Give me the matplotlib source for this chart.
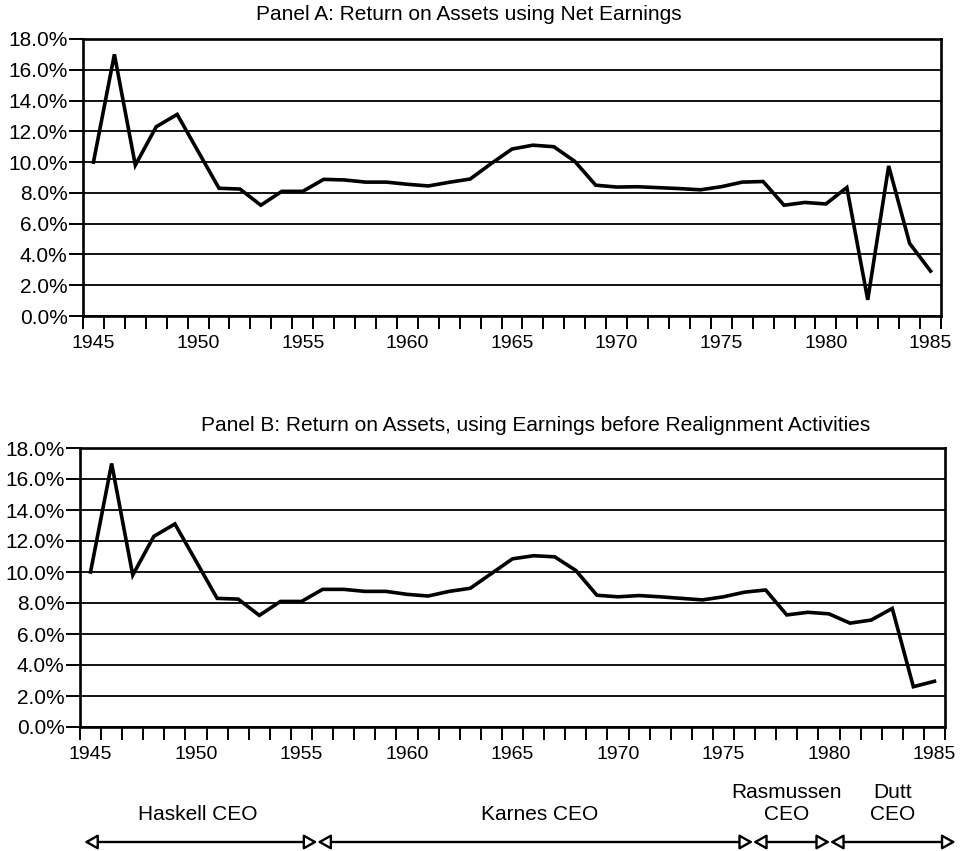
import numpy as np
import matplotlib
matplotlib.use('Agg')
import matplotlib.pyplot as plt
from matplotlib.patches import FancyArrowPatch
from matplotlib.transforms import blended_transform_factory

plt.rcParams['font.family'] = ['Liberation Sans', 'DejaVu Sans']

years = list(range(1945, 1986))

# Panel A: ROA using net earnings (%)
roa_net = [10.0, 17.0, 9.8, 12.3, 13.1, 10.7, 8.3, 8.25, 7.2, 8.1,
           8.1, 8.88, 8.84, 8.7, 8.7, 8.56, 8.45, 8.69, 8.9, 9.9,
           10.85, 11.1, 11.0, 10.05, 8.5, 8.38, 8.4, 8.34, 8.28, 8.2,
           8.4, 8.7, 8.74, 7.2, 7.38, 7.28, 8.35, 1.05, 9.75, 4.72,
           2.92]

# Panel B: ROA using earnings before realignment activities (%)
roa_before = [10.0, 17.0, 9.8, 12.3, 13.1, 10.7, 8.3, 8.25, 7.2, 8.1,
              8.1, 8.88, 8.88, 8.75, 8.75, 8.56, 8.45, 8.75, 8.95, 9.9,
              10.85, 11.05, 10.98, 10.1, 8.5, 8.4, 8.48, 8.4, 8.3, 8.2,
              8.4, 8.7, 8.84, 7.23, 7.4, 7.3, 6.7, 6.9, 7.65, 2.6,
              2.95]

title_a = 'Panel A: Return on Assets using Net Earnings'
title_b = 'Panel B: Return on Assets, using Earnings before Realignment Activities'
year_labels = [str(y) for y in range(1945, 1986, 5)]
y_ticks = np.arange(0, 18.1, 2)

ceo_names = ['Haskell CEO', 'Karnes CEO', 'Rasmussen\nCEO', 'Dutt\nCEO']
ceo_bounds = [1944.7, 1955.75, 1976.4, 1980.05, 1986.0]
ceo_label_x = [1950.1, 1966.3, 1978.0, 1983.0]


def style_axes(ax, values):
    ax.plot(years, values, color='black', lw=2.6, solid_joinstyle='miter', zorder=3)
    ax.set_xlim(1944.5, 1985.5)
    ax.set_ylim(0, 18)
    ax.set_yticks(y_ticks)
    ax.set_yticklabels([f'{v:.1f}%' for v in y_ticks], fontsize=15)
    ax.yaxis.grid(True, color='black', lw=1.3)
    ax.set_axisbelow(True)
    ax.set_xticks([int(s) for s in year_labels])
    ax.set_xticklabels(year_labels, fontsize=14)
    ax.set_xticks(np.arange(1944.5, 1986, 1), minor=True)
    ax.tick_params(axis='x', which='major', length=0, pad=14)
    ax.tick_params(axis='x', which='minor', length=9, width=1.4, direction='out')
    ax.tick_params(axis='y', length=10, width=1.4, pad=1)
    for s in ax.spines.values():
        s.set_linewidth(1.9)
        s.set_color('black')


def main():
    fig = plt.figure(figsize=(9.61, 8.51), dpi=100)
    W, H = 961, 851

    ax_a = fig.add_axes([83 / W, 1 - 316 / H, 858 / W, 277 / H])
    style_axes(ax_a, roa_net)
    fig.text(469 / W, 1 - 15 / H, title_a, ha='center', va='center', fontsize=15)

    ax_b = fig.add_axes([80 / W, 1 - 727 / H, 865 / W, 279 / H])
    style_axes(ax_b, roa_before)
    fig.text(535.5 / W, 1 - 425.5 / H, title_b, ha='center', va='center', fontsize=15)

    # CEO tenure arrows beneath panel B
    tr = blended_transform_factory(ax_b.transData, fig.transFigure)
    y_arrow = 1 - 842 / H
    for i in range(len(ceo_names)):
        arr = FancyArrowPatch((ceo_bounds[i], y_arrow), (ceo_bounds[i + 1], y_arrow),
                              transform=tr, arrowstyle='<|-|>,head_length=8,head_width=4.5',
                              mutation_scale=1, lw=1.7, color='black', fc='white',
                              shrinkA=0, shrinkB=0, clip_on=False)
        fig.add_artist(arr)
        ypos = 1 - 815 / H if '\n' not in ceo_names[i] else 1 - 803.5 / H
        fig.text(ceo_label_x[i], ypos, ceo_names[i], transform=tr, ha='center',
                 va='center', fontsize=15, linespacing=1.2)

    fig.savefig('out.png', dpi=100)


if __name__ == '__main__':
    main()
